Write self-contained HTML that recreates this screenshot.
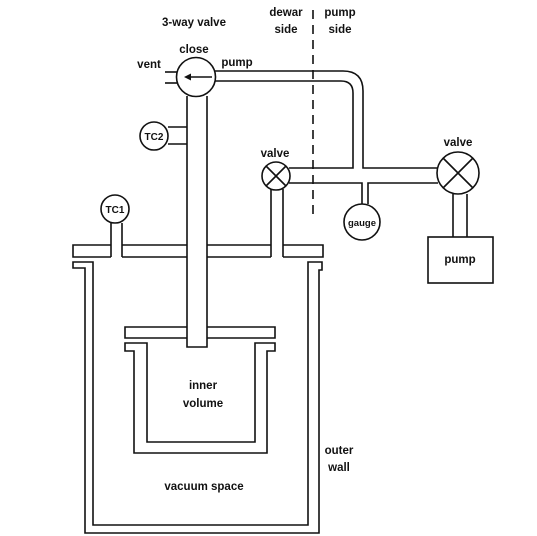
<!DOCTYPE html>
<html><head><meta charset="utf-8"><style>
html,body{margin:0;padding:0;background:#fff;}
svg{display:block;}
text{font-family:"Liberation Sans",sans-serif;font-size:11.5px;fill:#111;text-anchor:middle;font-weight:bold;}
.l{stroke:#111;stroke-width:1.6;fill:none;}
</style></head><body>
<svg width="537" height="536" viewBox="0 0 537 536">
<g>
<text x="194" y="26">3-way valve</text>
<text x="286" y="16">dewar</text>
<text x="286" y="33">side</text>
<text x="340" y="16">pump</text>
<text x="340" y="33">side</text>
<text x="194" y="53">close</text>
<text x="149" y="68">vent</text>
<text x="237" y="66">pump</text>
<text x="275" y="157">valve</text>
<text x="458" y="146">valve</text>
<text x="203" y="389">inner</text>
<text x="203" y="407">volume</text>
<text x="204" y="490">vacuum space</text>
<text x="339" y="454">outer</text>
<text x="339" y="471">wall</text>
</g>
<line x1="313" y1="10" x2="313" y2="216" class="l" stroke-dasharray="9,6"/>
<g>
<circle cx="196" cy="77" r="19.5" class="l"/>
<line x1="165" y1="72" x2="177" y2="72" class="l"/>
<line x1="165" y1="83" x2="177" y2="83" class="l"/>
<line x1="212" y1="77" x2="188" y2="77" class="l"/>
<path d="M184 77 L191 73.5 L191 80.5 Z" fill="#111"/>
</g>
<path d="M215 71 H343 Q363 71 363 91 V168 H438 M215 81 H341 Q353 81 353 93 V168 H289 M289 183 H362 V204 M368 204 V183 H438" class="l"/>
<g>
<circle cx="362" cy="222" r="18" class="l"/>
<text x="362" y="226" style="font-size:9.5px">gauge</text>
</g>
<g>
<circle cx="276" cy="176" r="14" class="l"/>
<path d="M266 166 L286 186 M286 166 L266 186" class="l"/>
</g>
<g>
<circle cx="458" cy="173" r="21" class="l"/>
<path d="M443 158 L473 188 M473 158 L443 188" class="l"/>
</g>
<path d="M453 194 V237 M467 194 V237" class="l"/>
<rect x="428" y="237" width="65" height="46" class="l"/>
<text x="460" y="263">pump</text>
<path d="M271 189 V257 M283 189 V257" class="l"/>
<path d="M187 96 V347 H207 V96 M187 127 H168 M187 144 H168" class="l"/>
<g>
<circle cx="154" cy="136" r="14" class="l"/>
<text x="154" y="140" style="font-size:10px">TC2</text>
</g>
<g>
<circle cx="115" cy="209" r="14" class="l"/>
<text x="115" y="213" style="font-size:10px">TC1</text>
</g>
<path d="M111 223 V257 M122 223 V257" class="l"/>
<path d="M111 245 H73 V257 H111 M122 245 H187 M122 257 H187 M207 245 H271 M207 257 H271 M283 245 H323 V257 H283" class="l"/>
<path d="M93 525 V262 H73 V268 H85 V533 H319 V270 H322 V262 H308 V525 Z" class="l"/>
<path d="M187 327 H125 V338 H187 M207 327 H275 V338 H207" class="l"/>
<path d="M147 442 V343 H125 V351 H134 V453 H267 V351 H275 V343 H255 V442 Z" class="l"/>
</svg>
</body></html>
